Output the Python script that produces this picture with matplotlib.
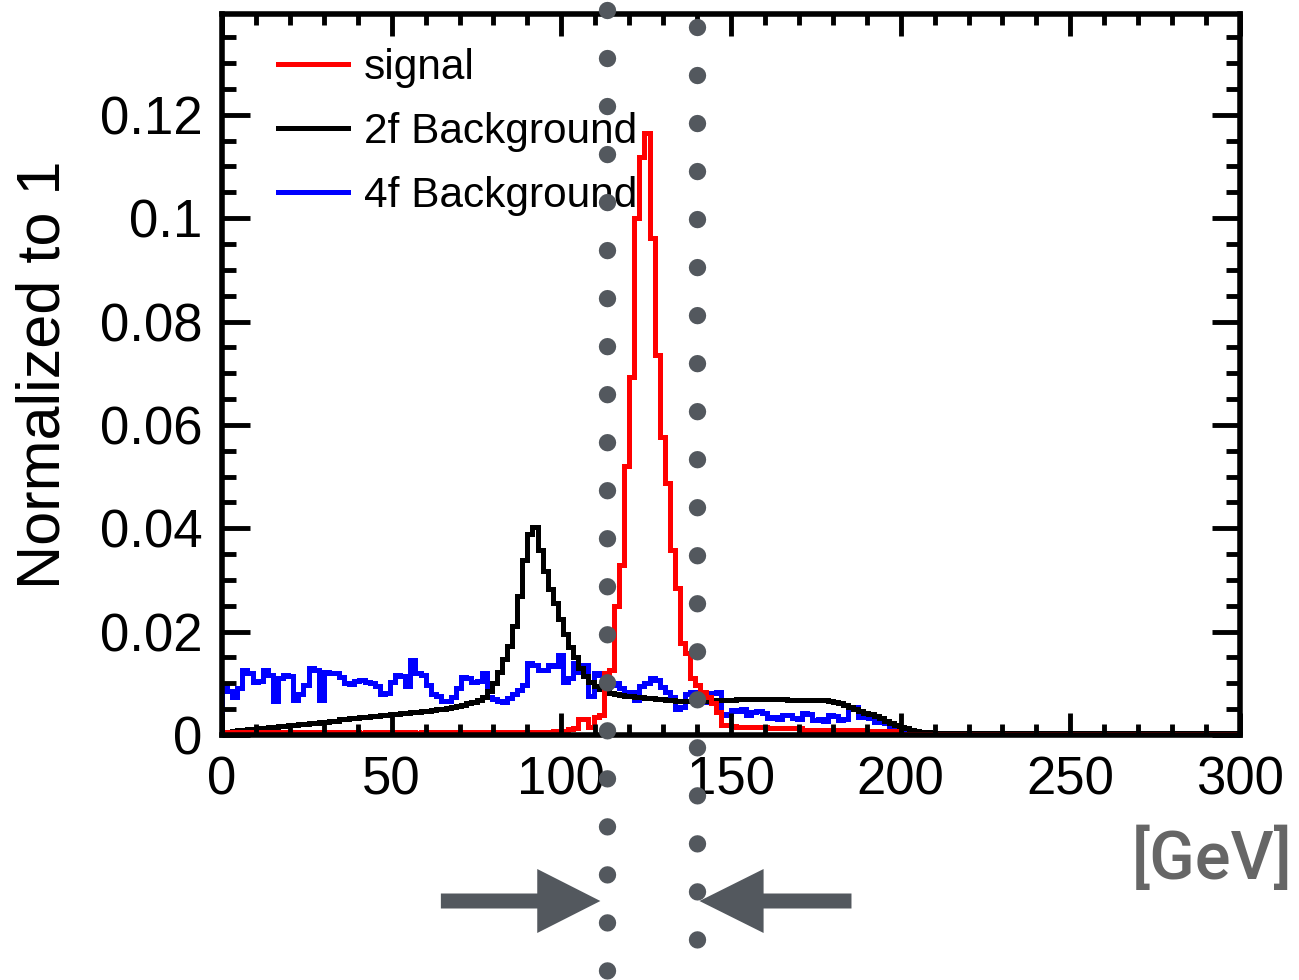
import numpy as np
import matplotlib
matplotlib.use('Agg')
import matplotlib.pyplot as plt
from matplotlib import transforms
from matplotlib.lines import Line2D
from matplotlib.patches import FancyArrow
from matplotlib.ticker import MultipleLocator, FuncFormatter

plt.rcParams['font.family'] = ['Liberation Sans', 'DejaVu Sans']

# 200 bins of 1.5 GeV between 0 and 300 GeV
bin_edges = np.linspace(0, 300, 201)

signal = [
    0.0004, 0.0005, 0.0005, 0.0004, 0.0005, 0.0005, 0.0004, 0.0005, 0.0005, 0.0005,
    0.0005, 0.0004, 0.0005, 0.0005, 0.0005, 0.0004, 0.0005, 0.0005, 0.0005, 0.0005,
    0.0005, 0.0005, 0.0004, 0.0005, 0.0005, 0.0005, 0.0005, 0.0004, 0.0005, 0.0005,
    0.0005, 0.0005, 0.0005, 0.0004, 0.0005, 0.0005, 0.0005, 0.0005, 0.0004, 0.0005,
    0.0005, 0.0005, 0.0005, 0.0005, 0.0004, 0.0005, 0.0005, 0.0005, 0.0005, 0.0005,
    0.0005, 0.0004, 0.0005, 0.0005, 0.0005, 0.0005, 0.0005, 0.0005, 0.0005, 0.0005,
    0.0005, 0.0005, 0.0006, 0.0006, 0.0006, 0.0007, 0.0007, 0.0008, 0.0012, 0.0013,
    0.0030, 0.0030, 0.0016, 0.0035, 0.0039, 0.0120, 0.0125, 0.0250, 0.0329, 0.0520,
    0.0693, 0.1000, 0.1119, 0.1165, 0.0961, 0.0735, 0.0577, 0.0488, 0.0358, 0.0284,
    0.0178, 0.0159, 0.0110, 0.0097, 0.0084, 0.0074, 0.0062, 0.0045, 0.0020, 0.0019,
    0.0018, 0.0016, 0.0016, 0.0016, 0.0015, 0.0015, 0.0015, 0.0013, 0.0013, 0.0013,
    0.0013, 0.0013, 0.0013, 0.0013, 0.0010, 0.0010, 0.0010, 0.0010, 0.0010, 0.0010,
    0.0010, 0.0010, 0.0010, 0.0010, 0.0010, 0.0010, 0.0007, 0.0007, 0.0007, 0.0007,
    0.0007, 0.0007, 0.0007, 0.0002, 0.0002, 0.0002, 0.0002, 0.0002, 0.0002, 0.0002,
    0.0002, 0.0002, 0.0002, 0.0002, 0.0002, 0.0002, 0.0002, 0.0002, 0.0002, 0.0002,
    0.0002, 0.0002, 0.0002, 0.0002, 0.0002, 0.0002, 0.0002, 0.0002, 0.0002, 0.0002,
    0.0002, 0.0002, 0.0002, 0.0002, 0.0002, 0.0002, 0.0002, 0.0002, 0.0002, 0.0002,
    0.0002, 0.0002, 0.0002, 0.0002, 0.0002, 0.0002, 0.0002, 0.0002, 0.0002, 0.0002,
    0.0002, 0.0002, 0.0002, 0.0002, 0.0002, 0.0002, 0.0002, 0.0002, 0.0002, 0.0002,
    0.0002, 0.0002, 0.0002, 0.0002, 0.0002, 0.0002, 0.0002, 0.0002, 0.0002, 0.0002,
]

bkg_2f = [
    0.0004, 0.0006, 0.0008, 0.0009, 0.0010, 0.0011, 0.0012, 0.0013, 0.0014, 0.0015,
    0.0016, 0.0017, 0.0018, 0.0019, 0.0020, 0.0021, 0.0022, 0.0023, 0.0024, 0.0025,
    0.0026, 0.0027, 0.0028, 0.0030, 0.0031, 0.0032, 0.0033, 0.0034, 0.0035, 0.0036,
    0.0037, 0.0038, 0.0039, 0.0040, 0.0041, 0.0042, 0.0043, 0.0044, 0.0045, 0.0046,
    0.0047, 0.0048, 0.0050, 0.0051, 0.0052, 0.0054, 0.0056, 0.0058, 0.0061, 0.0064,
    0.0068, 0.0074, 0.0085, 0.0100, 0.0122, 0.0148, 0.0172, 0.0210, 0.0268, 0.0339,
    0.0388, 0.0403, 0.0358, 0.0318, 0.0283, 0.0255, 0.0225, 0.0196, 0.0170, 0.0150,
    0.0130, 0.0114, 0.0103, 0.0095, 0.0089, 0.0085, 0.0082, 0.0080, 0.0078, 0.0076,
    0.0075, 0.0074, 0.0073, 0.0072, 0.0071, 0.0070, 0.0069, 0.0068, 0.0067, 0.0066,
    0.0066, 0.0065, 0.0065, 0.0065, 0.0065, 0.0066, 0.0066, 0.0067, 0.0067, 0.0068,
    0.0068, 0.0069, 0.0069, 0.0069, 0.0069, 0.0069, 0.0069, 0.0069, 0.0069, 0.0069,
    0.0069, 0.0068, 0.0068, 0.0068, 0.0068, 0.0068, 0.0067, 0.0067, 0.0067, 0.0066,
    0.0064, 0.0061, 0.0058, 0.0055, 0.0051, 0.0047, 0.0043, 0.0040, 0.0036, 0.0032,
    0.0028, 0.0024, 0.0020, 0.0016, 0.0013, 0.0010, 0.0008, 0.0006, 0.0005, 0.0004,
    0.0003, 0.0003, 0.0003, 0.0003, 0.0003, 0.0003, 0.0003, 0.0003, 0.0003, 0.0003,
    0.0003, 0.0003, 0.0003, 0.0003, 0.0003, 0.0003, 0.0003, 0.0003, 0.0003, 0.0003,
    0.0003, 0.0003, 0.0003, 0.0003, 0.0003, 0.0003, 0.0003, 0.0003, 0.0003, 0.0003,
    0.0003, 0.0003, 0.0003, 0.0003, 0.0003, 0.0003, 0.0003, 0.0003, 0.0003, 0.0003,
    0.0003, 0.0003, 0.0003, 0.0003, 0.0003, 0.0003, 0.0003, 0.0003, 0.0003, 0.0003,
    0.0003, 0.0003, 0.0003, 0.0003, 0.0003, 0.0003, 0.0003, 0.0003, 0.0003, 0.0003,
]

bkg_4f = [
    0.0094, 0.0085, 0.0074, 0.0090, 0.0126, 0.0120, 0.0103, 0.0105, 0.0126, 0.0117,
    0.0065, 0.0110, 0.0117, 0.0115, 0.0068, 0.0080, 0.0097, 0.0129, 0.0125, 0.0068,
    0.0122, 0.0120, 0.0119, 0.0112, 0.0100, 0.0098, 0.0104, 0.0106, 0.0103, 0.0101,
    0.0095, 0.0080, 0.0082, 0.0103, 0.0116, 0.0114, 0.0094, 0.0145, 0.0119, 0.0117,
    0.0097, 0.0080, 0.0076, 0.0065, 0.0066, 0.0074, 0.0090, 0.0113, 0.0111, 0.0103,
    0.0104, 0.0119, 0.0074, 0.0070, 0.0065, 0.0063, 0.0072, 0.0080, 0.0088, 0.0097,
    0.0139, 0.0136, 0.0126, 0.0125, 0.0135, 0.0133, 0.0154, 0.0103, 0.0110, 0.0139,
    0.0122, 0.0135, 0.0075, 0.0119, 0.0116, 0.0110, 0.0097, 0.0100, 0.0090, 0.0077,
    0.0084, 0.0068, 0.0095, 0.0100, 0.0110, 0.0106, 0.0092, 0.0084, 0.0073, 0.0050,
    0.0055, 0.0080, 0.0084, 0.0078, 0.0064, 0.0075, 0.0081, 0.0084, 0.0039, 0.0041,
    0.0048, 0.0047, 0.0050, 0.0039, 0.0045, 0.0046, 0.0043, 0.0032, 0.0034, 0.0030,
    0.0039, 0.0038, 0.0032, 0.0031, 0.0042, 0.0041, 0.0029, 0.0030, 0.0028, 0.0039,
    0.0037, 0.0029, 0.0030, 0.0052, 0.0055, 0.0035, 0.0036, 0.0033, 0.0026, 0.0027,
    0.0024, 0.0016, 0.0012, 0.0008, 0.0007, 0.0006, 0.0006, 0.0005, 0.0005, 0.0004,
    0.0004, 0.0003, 0.0004, 0.0003, 0.0003, 0.0004, 0.0003, 0.0002, 0.0003, 0.0004,
    0.0003, 0.0003, 0.0002, 0.0003, 0.0004, 0.0003, 0.0003, 0.0003, 0.0002, 0.0003,
    0.0004, 0.0003, 0.0003, 0.0003, 0.0002, 0.0003, 0.0003, 0.0004, 0.0003, 0.0003,
    0.0003, 0.0002, 0.0003, 0.0003, 0.0004, 0.0003, 0.0003, 0.0003, 0.0002, 0.0003,
    0.0003, 0.0004, 0.0003, 0.0003, 0.0003, 0.0002, 0.0003, 0.0003, 0.0003, 0.0004,
    0.0003, 0.0003, 0.0002, 0.0003, 0.0003, 0.0003, 0.0004, 0.0003, 0.0003, 0.0003,
]

labels = ['signal', '2f Background', '4f Background']
colors = ['#ff0000', '#000000', '#0000ff']

# mass window cut (GeV)
cut_lo = 113.5
cut_hi = 140.0

grey = '#53585e'

fig = plt.figure(figsize=(12.99, 9.8), dpi=100)
ax = fig.add_axes([0.1709, 0.25, 0.7837, 0.7357])

ax.stairs(bkg_4f, bin_edges, color=colors[2], lw=3.6)
ax.stairs(bkg_2f, bin_edges, color=colors[1], lw=3.6)
ax.stairs(signal, bin_edges, color=colors[0], lw=3.6)

ax.set_xlim(0, 300)
ax.set_ylim(0, 0.1395)

ax.xaxis.set_major_locator(MultipleLocator(50))
ax.xaxis.set_minor_locator(MultipleLocator(10))
ax.yaxis.set_major_locator(MultipleLocator(0.02))
ax.yaxis.set_minor_locator(MultipleLocator(0.005))
ax.yaxis.set_major_formatter(FuncFormatter(lambda v, p: '%g' % round(v, 4)))

ax.tick_params(which='both', direction='in', top=True, right=True, width=3.5, labelsize=38)
ax.tick_params(axis='x', which='major', length=15.5, pad=15)
ax.tick_params(axis='x', which='minor', length=8)
ax.tick_params(axis='y', which='major', length=20, pad=14)
ax.tick_params(axis='y', which='minor', length=10)
for sp in ax.spines.values():
    sp.set_linewidth(4)

ax.set_ylabel('Normalized to 1', fontsize=44, labelpad=20)

handles = [Line2D([], [], color=c, lw=3.6) for c in colors]
ax.legend(handles, labels, loc='upper left', bbox_to_anchor=(0.055, 0.953),
          frameon=False, fontsize=30.5, handlelength=1.66, handletextpad=0.36,
          labelspacing=0.57, borderpad=0, borderaxespad=0)

fig.text(1292 / 1299, 1 - 860 / 980, '[GeV]', ha='right', va='center',
         fontsize=48, family='Roboto', weight='medium', color='#666666')

# dotted cut lines spanning the whole figure height
trans = transforms.blended_transform_factory(ax.transData, fig.transFigure)
ax.plot([cut_lo, cut_lo], [0.9898, 0.0040], transform=trans, clip_on=False,
        color=grey, lw=12.5, linestyle=(0, (0.001, 2.765)), dash_capstyle='round', zorder=10)
ax.plot([cut_hi, cut_hi], [0.9724, 0.0360], transform=trans, clip_on=False,
        color=grey, lw=12.5, linestyle=(0, (0.001, 2.765)), dash_capstyle='round', zorder=10)

# arrows pointing at the mass window
y_arrow = 1 - 901 / 980
fig.add_artist(FancyArrow(cut_lo - 49, y_arrow, 47, 0, width=0.0153, head_width=0.0653,
                          head_length=18.6, length_includes_head=True,
                          transform=trans, color=grey, lw=0))
fig.add_artist(FancyArrow(cut_hi + 45.5, y_arrow, -44.8, 0, width=0.0153, head_width=0.0653,
                          head_length=18.9, length_includes_head=True,
                          transform=trans, color=grey, lw=0))

fig.savefig('out.png', dpi=100)
